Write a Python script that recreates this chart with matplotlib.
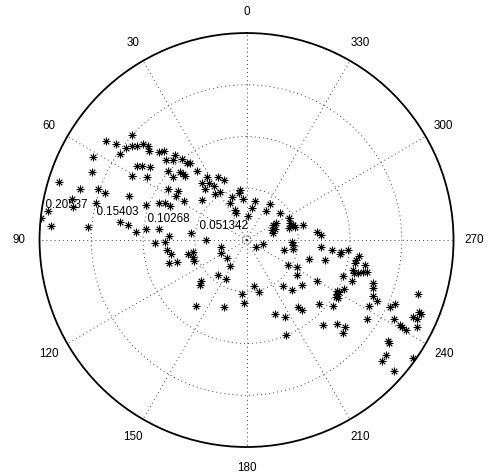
import numpy as np
import matplotlib
matplotlib.use('Agg')
import matplotlib.pyplot as plt

plt.rcParams['font.family'] = ['Liberation Sans', 'DejaVu Sans']

# angle of each sample (degrees, 0 at top, counter-clockwise) and its magnitude
theta_deg = [
    47.5, 54.9, 53.65, 52.75, 50.7, 49.5, 47.3, 46.25, 47.4, 44.85,
    42.8, 55.8, 61.6, 45.2, 42.7, 40.1, 38.6, 37.7, 36.2, 56.0,
    54.8, 52.7, 48.6, 44.4, 43.9, 43.6, 35.9, 66.4, 60.8, 57.6,
    49.65, 32.1, 24.2, 20.65, 38.0, 33.2, 72.7, 73.0, 71.0, 71.6,
    69.4, 57.0, 54.05, 58.2, 39.6, 31.4, 34.1, 29.05, 7.7, 9.0,
    76.8, 79.2, 76.1, 70.8, 67.2, 65.9, 66.0, 57.75, 47.8, 18.4,
    5.6, 23.9, 20.7, 21.9, 348.4, 351.0, 357.2, 327.1, 326.8, 309.2,
    81.6, 84.0, 86.0, 85.2, 81.8, 82.8, 85.7, 83.9, 83.0, 82.5,
    89.6, 92.1, 91.2, 87.0, 97.2, 100.8, 106.2, 107.4, 103.1, 102.2,
    108.2, 111.8, 104.7, 116.5, 132.7, 147.1, 141.1, 152.6, 131.6, 134.1,
    142.45, 161.4, 233.3, 256.1,
    297.3, 291.7, 288.3, 285.3, 285.6, 284.9, 299.2, 299.5, 291.6, 290.6,
    285.6, 276.7, 274.1, 267.8, 263.8, 258.6, 255.1, 264.4, 263.3, 262.9,
    261.5, 264.4, 252.8, 255.4, 259.8, 261.8, 258.2, 258.1, 239.3, 241.9,
    254.3, 253.1, 253.7, 254.7, 255.2, 235.1, 249.6, 240.1, 248.85, 251.3,
    249.15, 246.1, 245.0, 189.3, 193.8, 174.9, 177.4, 218.7, 222.1, 230.8,
    240.65, 240.9, 239.25, 237.4, 237.6, 243.2, 228.7, 232.6, 217.8, 218.3,
    201.1, 206.65, 241.7, 244.9, 246.7, 236.6, 222.1, 227.2, 228.65, 226.1,
    202.6, 241.7, 241.0, 240.6, 240.8, 245.1, 245.1, 247.5, 247.0, 242.9,
    252.55, 234.5, 234.2, 230.5, 228.25, 228.45, 234.65,
]
rho = [
    .1544, .1710, .1607, .1508, .1472, .1429, .1401, .1349, .1311, .1238,
    .1204, .1518, .1727, .1126, .1080, .1102, .1025, .0970, .0950, .1314,
    .1273, .1203, .1038, .0943, .0909, .0884, .0842, .1676, .1302, .1166,
    .0961, .0738, .0682, .0633, .0722, .0679, .1945, .1727, .1563, .1485,
    .1242, .0925, .0834, .0829, .0653, .0628, .0557, .0542, .0503, .0477,
    .1778, .1750, .1538, .1056, .0938, .0891, .0830, .0730, .0595, .0446,
    .0406, .0405, .0323, .0292, .0395, .0318, .0243, .0420, .0344, .0429,
    .1994, .2050, .1944, .1575, .1268, .1182, .1099, .1000, .0874, .0555,
    .0402, .0908, .0809, .0767, .0795, .0766, .0801, .0728, .0596, .0548,
    .0555, .0561, .0262, .0282, .0267, .0307, .0446, .0436, .0608, .0642,
    .0822, .0698, .0111, .0166,
    .0469, .0464, .0489, .0499, .0433, .0577, .0305, .0336, .0269, .0302,
    .0270, .0707, .0738, .0449, .0459, .0466, .0385, .0740, .0851, .0945,
    .0938, .1010, .0649, .0805, .1104, .1128, .1099, .1202, .0476, .0568,
    .1098, .1115, .1156, .1195, .1233, .0607, .1025, .0810, .1119, .1322,
    .1346, .1370, .1426, .0462, .0531, .0538, .0622, .0584, .0669, .0706,
    .1026, .1054, .1048, .1054, .1079, .1084, .0962, .1078, .0838, .0884,
    .0786, .0851, .1383, .1573, .1604, .1429, .1137, .1227, .1302, .1326,
    .1021, .1662, .1741, .1817, .1764, .1818, .1868, .1856, .1878, .1903,
    .1786, .1727, .1747, .1794, .1798, .1955, .2029,
]

ring_vals = [0.051342, 0.10268, 0.15403, 0.20537]
ring_labels = ['0.051342', '0.10268', '0.15403', '0.20537']
angle_ticks = list(range(0, 360, 30))
angle_labels = [str(a) for a in angle_ticks]

rmax = ring_vals[-1]
rinc = ring_vals[0]

fig = plt.figure(figsize=(4.91, 4.76), dpi=100)
ax = fig.add_axes([0.0805, 0.0609, 0.8432, 0.8697], projection='polar')
ax.set_theta_zero_location('N')
ax.set_theta_direction(1)
ax.set_rlim(0, rmax)

ax.set_rticks(ring_vals[:-1])
ax.set_yticklabels([])
ax.set_xticks(np.deg2rad(angle_ticks))
ax.set_xticklabels([])
ax.grid(True, color='k', linestyle=(0, (1, 3.2)), linewidth=0.7, alpha=0.75)
ax.spines['polar'].set_linewidth(1.3)
ax.spines['polar'].set_color('k')

# tiny dotted ring at the centre
tt = np.linspace(0, 2 * np.pi, 60)
ax.plot(tt, np.full_like(tt, 0.004), color='k', linestyle=(0, (1, 2)), linewidth=0.6, alpha=0.75)

for r, lab in zip(ring_vals, ring_labels):
    ax.text(np.deg2rad(82), r + rinc / 20, '  ' + lab, ha='left', va='bottom',
            fontsize=8.4, clip_on=False)

for a, lab in zip(angle_ticks, angle_labels):
    ax.text(np.deg2rad(a), rmax * 1.1, lab, ha='center', va='center',
            fontsize=8.4, clip_on=False)

ax.plot(np.deg2rad(theta_deg), rho, linestyle='none', marker=(8, 2, 0),
        markersize=5.5, markeredgewidth=0.6, color='k')

fig.savefig('out.png', dpi=100)
